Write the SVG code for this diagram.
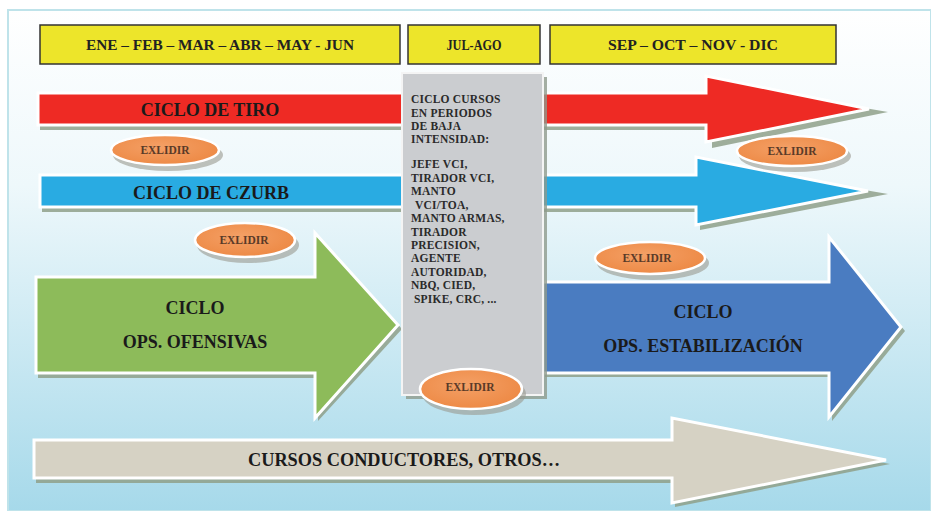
<svg xmlns="http://www.w3.org/2000/svg" width="931" height="511" viewBox="0 0 931 511">
<defs>
<linearGradient id="bg" x1="0" y1="0" x2="0" y2="1">
<stop offset="0" stop-color="#ffffff"/>
<stop offset="0.35" stop-color="#eef8fb"/>
<stop offset="1" stop-color="#a6d9ea"/>
</linearGradient>
<radialGradient id="og" cx="0.45" cy="0.4" r="0.7">
<stop offset="0" stop-color="#f4a066"/>
<stop offset="1" stop-color="#ec8640"/>
</radialGradient>
<style>
.sh{fill:#8fa08a;opacity:0.85}
.ar{stroke:#ffffff;stroke-width:3;stroke-linejoin:miter}
.hdr{fill:#ede52a;stroke:#333333;stroke-width:1.5}
.ht{font-family:"Liberation Serif","Times New Roman",serif;font-weight:bold;font-size:14px;fill:#222222;text-anchor:middle}
.lb{font-family:"Liberation Serif","Times New Roman",serif;font-weight:bold;font-size:18px;fill:#1a1a1a;text-anchor:middle}
.gt{font-family:"Liberation Serif","Times New Roman",serif;font-weight:bold;font-size:11.5px;fill:#2a2a2a;letter-spacing:0.2px}
.el{fill:url(#og);stroke:#ffffff;stroke-width:2.5}
.es{fill:#9a9a90;opacity:0.6}
.et{font-family:"Liberation Serif","Times New Roman",serif;font-weight:bold;font-size:11.5px;fill:#5a3a28;text-anchor:middle}
</style>
</defs>
<rect x="0" y="0" width="931" height="511" fill="#ffffff"/>
<rect x="8" y="10" width="923" height="501" fill="url(#bg)" stroke="#bfe3ea" stroke-width="2"/>

<g id="header-1"><rect class="hdr" x="40" y="25" width="360" height="39"/><text class="ht" x="220" y="50" textLength="268" lengthAdjust="spacingAndGlyphs">ENE – FEB – MAR – ABR – MAY - JUN</text></g>
<g id="header-2"><rect class="hdr" x="408" y="25" width="132" height="39"/><text class="ht" x="474" y="50" textLength="55" lengthAdjust="spacingAndGlyphs">JUL-AGO</text></g>
<g id="header-3"><rect class="hdr" x="550" y="25" width="286" height="39"/><text class="ht" x="693" y="50" textLength="170" lengthAdjust="spacingAndGlyphs">SEP – OCT – NOV - DIC</text></g>

<g id="arrow-tiro">
<polygon class="sh" points="40,98 712,98 712,82 888,112 712,148 712,130 40,130"/>
<polygon class="ar" fill="#ee2a24" points="38,93 706,93 706,76 869,109 706,142 706,125 38,125"/>
<text class="lb" x="210" y="116">CICLO DE TIRO</text>
</g>
<g id="arrow-czurb">
<polygon class="sh" points="42,180 700,180 700,162 888,194 700,230 700,212 42,212"/>
<polygon class="ar" fill="#29abe2" points="40,175 696,175 696,157 868,191 696,225 696,207 40,207"/>
<text class="lb" x="211" y="199">CICLO DE CZURB</text>
</g>
<g id="arrow-ofensivas">
<polygon class="sh" points="38,281 318,281 318,238 402,329 318,421 318,378 38,378"/>
<polygon class="ar" fill="#8dbb5a" points="36,277 315,277 315,233 398,325 315,418 315,373 36,373"/>
<text class="lb" x="195" y="314">CICLO</text>
<text class="lb" x="195" y="348">OPS. OFENSIVAS</text>
</g>
<g id="arrow-estabilizacion">
<polygon class="sh" points="545,286 832,286 832,241 905,331 832,421 832,377 545,377"/>
<polygon class="ar" fill="#4a7cc1" points="543,282 829,282 829,237 901,327 829,417 829,373 543,373"/>
<text class="lb" x="703" y="318">CICLO</text>
<text class="lb" x="703" y="352">OPS. ESTABILIZACIÓN</text>
</g>
<g id="arrow-cursos">
<polygon class="sh" points="36,445 675,445 675,423 890,464 675,507 675,483 36,483"/>
<polygon class="ar" fill="#d6d2c4" points="34,440 672,440 672,418 886,460 672,503 672,478 34,478"/>
<text class="lb" x="404" y="466" textLength="312" lengthAdjust="spacingAndGlyphs">CURSOS CONDUCTORES, OTROS…</text>
</g>

<g id="box-cursos">
<rect x="406" y="77" width="141" height="322" fill="#8e9a8c" opacity="0.8"/>
<rect x="402" y="73" width="141" height="322" fill="#cbcdd0" stroke="#f4f4f4" stroke-width="2"/>
<text class="gt" x="411" y="103">CICLO CURSOS</text>
<text class="gt" x="411" y="117">EN PERIODOS</text>
<text class="gt" x="411" y="130">DE BAJA</text>
<text class="gt" x="411" y="143">INTENSIDAD:</text>
<text class="gt" x="411" y="168">JEFE VCI,</text>
<text class="gt" x="411" y="182">TIRADOR VCI,</text>
<text class="gt" x="411" y="195">MANTO</text>
<text class="gt" x="415" y="209">VCI/TOA,</text>
<text class="gt" x="411" y="222">MANTO ARMAS,</text>
<text class="gt" x="411" y="236">TIRADOR</text>
<text class="gt" x="411" y="249">PRECISION,</text>
<text class="gt" x="411" y="262">AGENTE</text>
<text class="gt" x="411" y="276">AUTORIDAD,</text>
<text class="gt" x="411" y="289">NBQ, CIED,</text>
<text class="gt" x="414" y="303">SPIKE, CRC, ...</text>
</g>

<g id="exlidir-1"><ellipse class="es" cx="168" cy="155" rx="55" ry="16"/><ellipse class="el" cx="165" cy="150" rx="54" ry="15"/><text class="et" x="165" y="154">EXLIDIR</text></g>
<g id="exlidir-2"><ellipse class="es" cx="795" cy="156" rx="56" ry="16"/><ellipse class="el" cx="792" cy="151" rx="55" ry="15"/><text class="et" x="792" y="155">EXLIDIR</text></g>
<g id="exlidir-3"><ellipse class="es" cx="248" cy="245" rx="51" ry="18"/><ellipse class="el" cx="245" cy="240" rx="50" ry="17"/><text class="et" x="244" y="244">EXLIDIR</text></g>
<g id="exlidir-4"><ellipse class="es" cx="653" cy="263" rx="56" ry="17"/><ellipse class="el" cx="650" cy="258" rx="55" ry="16"/><text class="et" x="647" y="262">EXLIDIR</text></g>
<g id="exlidir-5"><ellipse class="es" cx="474" cy="394" rx="52" ry="21"/><ellipse class="el" cx="471" cy="389" rx="51" ry="20"/><text class="et" x="470" y="391">EXLIDIR</text></g>
</svg>
